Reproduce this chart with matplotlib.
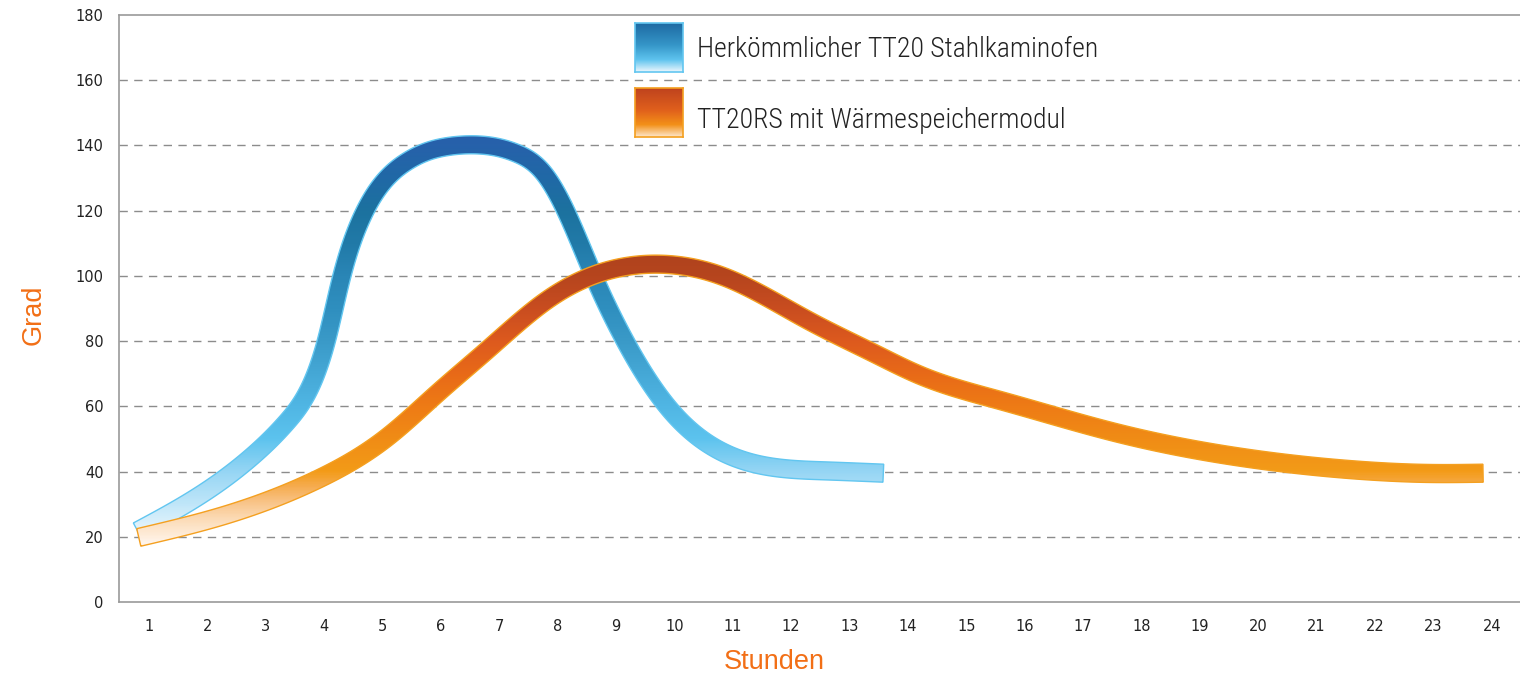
import numpy as np
import matplotlib
matplotlib.use("Agg")
import matplotlib.pyplot as plt
from matplotlib.colors import LinearSegmentedColormap, Normalize
from matplotlib.patches import Polygon
from matplotlib import font_manager

# ---------------- data ----------------
hours = list(range(1, 25))
y_ticks = [0, 20, 40, 60, 80, 100, 120, 140, 160, 180]

series_names = ["Herkömmlicher TT20 Stahlkaminofen", "TT20RS mit Wärmespeichermodul"]

steel_x = [0.81, 1.67, 2.80, 3.38, 3.82, 4.06, 4.29, 4.63, 5.02, 5.40, 5.75, 6.10,
           6.51, 6.95, 7.30, 7.76, 8.14, 8.62, 9.16, 9.88, 10.67, 11.70, 12.60, 13.58]
steel_y = [21.8, 30.4, 45.1, 55.5, 68.1, 81.3, 98.7, 117.1, 128.8, 134.8, 138.0, 139.6,
           140.2, 139.5, 137.6, 131.6, 120.0, 100.0, 80.0, 60.0, 47.5, 41.3, 40.2, 39.5]

rs_x = [0.83, 2.23, 3.94, 5.09, 5.95, 6.80, 7.80, 8.56, 9.71, 10.84, 12.28,
        13.45, 14.20, 15.56, 17.59, 19.62, 21.65, 22.99, 23.85]
rs_y = [19.8, 26.2, 38.0, 50.6, 64.1, 77.3, 92.3, 99.8, 103.6, 99.8, 86.5,
        76.0, 69.6, 61.9, 51.8, 44.6, 40.5, 39.4, 39.5]

# ---------------- styling ----------------
blue_stops = [(20, "#eef8fd"), (30, "#bfe6f9"), (40, "#95d5f4"), (50, "#5cc3ee"),
              (60, "#50b6e4"), (70, "#45a8d6"), (80, "#3a9ac8"), (90, "#2f8fbf"),
              (100, "#2a86b6"), (110, "#217aa8"), (120, "#1c729f"), (130, "#2069a6"),
              (142, "#2760ab")]
orange_stops = [(18, "#fff4ea"), (25, "#fcdcb8"), (30, "#f9c68c"), (35, "#f6ad52"),
                (40, "#f39b18"), (50, "#f08c15"), (60, "#ee7b15"), (70, "#e86a18"),
                (80, "#dd5a1e"), (90, "#c94d20"), (100, "#b6451e"), (106, "#b0431d")]
blue_edge = "#62c6f0"
orange_edge = "#f4a020"
label_orange = "#f26f16"

installed = {f.name for f in font_manager.fontManager.ttflist}
legend_family = [f for f in ["Roboto Condensed", "Liberation Sans Narrow", "Roboto"]
                 if f in installed] + ["DejaVu Sans"]
condensed = legend_family[0] in ("Roboto Condensed", "Liberation Sans Narrow")
legend_size = 20 if condensed else 18

plt.rcParams["font.family"] = ["DejaVu Sans"]
TICK_FONT = ["DejaVu Sans"]

W, H, DPI = 1520, 677, 100
fig = plt.figure(figsize=(W / DPI, H / DPI), dpi=DPI)
ax = fig.add_axes([119.5 / W, (H - 602) / H, (1521 - 119.5) / W, (602 - 15) / H])
ax.set_xlim(0.5, 24.5)
ax.set_ylim(0, 180)


def make_cmap(stops, name):
    lo, hi = stops[0][0], stops[-1][0]
    return LinearSegmentedColormap.from_list(
        name, [((v - lo) / (hi - lo), c) for v, c in stops]), Normalize(lo, hi)


def natural_spline(x, y, xn):
    x = np.asarray(x, float)
    y = np.asarray(y, float)
    n = len(x)
    h = np.diff(x)
    A = np.zeros((n, n))
    r = np.zeros(n)
    A[0, 0] = A[-1, -1] = 1.0
    for i in range(1, n - 1):
        A[i, i - 1] = h[i - 1]
        A[i, i] = 2 * (h[i - 1] + h[i])
        A[i, i + 1] = h[i]
        r[i] = 6 * ((y[i + 1] - y[i]) / h[i] - (y[i] - y[i - 1]) / h[i - 1])
    M = np.linalg.solve(A, r)
    idx = np.clip(np.searchsorted(x, xn) - 1, 0, n - 2)
    hi = h[idx]
    a = (x[idx + 1] - xn) / hi
    b = (xn - x[idx]) / hi
    return (a * y[idx] + b * y[idx + 1]
            + ((a**3 - a) * M[idx] + (b**3 - b) * M[idx + 1]) * hi**2 / 6)


def band(xs, ys, stops, edge, z, half_px=9.0):
    xn = np.linspace(xs[0], xs[-1], 2000)
    yn = natural_spline(xs, ys, xn)
    pts = ax.transData.transform(np.column_stack([xn, yn]))
    d = np.gradient(pts, axis=0)
    d /= np.hypot(d[:, 0], d[:, 1])[:, None]
    nrm = np.column_stack([-d[:, 1], d[:, 0]])
    up = pts + half_px * nrm
    lo = pts - half_px * nrm
    poly_px = np.vstack([up, lo[::-1]])
    poly = ax.transData.inverted().transform(poly_px)
    cmap, norm = make_cmap(stops, "c%d" % z)
    grad = np.linspace(0, 180, 720)[:, None]
    im = ax.imshow(grad, extent=(0.5, 24.5, 0, 180), origin="lower", cmap=cmap,
                   norm=norm, aspect="auto", interpolation="bilinear", zorder=z)
    patch = Polygon(poly, closed=True, facecolor="none", edgecolor=edge,
                    linewidth=1.0, zorder=z + 0.1, transform=ax.transData)
    ax.add_patch(patch)
    im.set_clip_path(patch)


band(steel_x, steel_y, blue_stops, blue_edge, 3)
band(rs_x, rs_y, orange_stops, orange_edge, 4)

ax.set_xlim(0.5, 24.5)
ax.set_ylim(0, 180)

# grid + spines
for v in y_ticks[1:-1]:
    ax.axhline(v, color="#8c8c8c", lw=1.0, dashes=(6, 4.6), zorder=1)
for s in ["left", "bottom", "top"]:
    ax.spines[s].set_color("#9a9a9a")
    ax.spines[s].set_linewidth(1.2)
ax.spines["right"].set_visible(False)

ax.set_xticks(hours)
ax.set_xticklabels([str(h) for h in hours], family=TICK_FONT)
ax.set_yticks(y_ticks)
ax.set_yticklabels([str(v) for v in y_ticks], family=TICK_FONT)
ax.tick_params(axis="both", length=0, labelsize=10.5, labelcolor="#222222")
ax.tick_params(axis="y", pad=11.5)
ax.tick_params(axis="x", pad=12)

fig.text(774 / W, 1 - 662 / H, "Stunden", color=label_orange, fontsize=19.5,
         family=["Liberation Sans", "DejaVu Sans"], ha="center", va="center")
fig.text(34 / W, 1 - 315 / H, "Grad", color=label_orange, fontsize=19.5,
         family=["Liberation Sans", "DejaVu Sans"], ha="center", va="center",
         rotation=90)

# legend
leg_boxes = [(635, 23, 72), (635, 88, 137)]
leg_stops = [
    [(0.0, "#eaf6fd"), (0.25, "#5ec3ee"), (0.55, "#3596c8"), (1.0, "#1e6aa3")],
    [(0.0, "#fde6ca"), (0.25, "#f39018"), (0.55, "#e0601c"), (1.0, "#bf431e")],
]
leg_edges = [blue_edge, orange_edge]
leg_baselines = [57, 128]
for (lx, ty, by), st, ec, bl, name in zip(leg_boxes, leg_stops, leg_edges,
                                          leg_baselines, series_names):
    lax = fig.add_axes([lx / W, (H - by) / H, 48 / W, (by - ty) / H])
    cm = LinearSegmentedColormap.from_list("leg", st)
    lax.imshow(np.linspace(0, 1, 100)[:, None], origin="lower", cmap=cm,
               aspect="auto", extent=(0, 1, 0, 1), interpolation="bilinear")
    lax.set_xticks([])
    lax.set_yticks([])
    for s in lax.spines.values():
        s.set_color(ec)
        s.set_linewidth(1.2)
    fig.text(697 / W, 1 - bl / H, name, color="#222222", fontsize=legend_size,
             family=legend_family, fontweight="light", ha="left", va="baseline")

fig.savefig("out.png", dpi=DPI, facecolor="white")
